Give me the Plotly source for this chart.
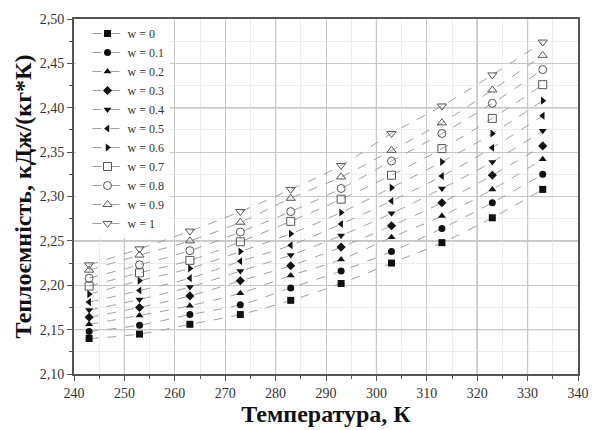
import plotly.graph_objects as go

temps = [243, 253, 263, 273, 283, 293, 303, 313, 323, 333]
labels = ["w = 0", "w = 0.1", "w = 0.2", "w = 0.3", "w = 0.4", "w = 0.5",
          "w = 0.6", "w = 0.7", "w = 0.8", "w = 0.9", "w = 1"]

w00 = [2.140, 2.145, 2.156, 2.167, 2.183, 2.202, 2.225, 2.248, 2.276, 2.308]
w01 = [2.148, 2.155, 2.167, 2.178, 2.197, 2.216, 2.238, 2.264, 2.293, 2.325]
w02 = [2.156, 2.166, 2.177, 2.191, 2.211, 2.229, 2.254, 2.278, 2.308, 2.342]
w03 = [2.164, 2.175, 2.188, 2.205, 2.222, 2.243, 2.267, 2.293, 2.324, 2.357]
w04 = [2.172, 2.184, 2.198, 2.216, 2.234, 2.256, 2.281, 2.309, 2.339, 2.374]
w05 = [2.181, 2.194, 2.208, 2.227, 2.245, 2.269, 2.295, 2.323, 2.355, 2.391]
w06 = [2.190, 2.205, 2.219, 2.238, 2.258, 2.282, 2.310, 2.339, 2.371, 2.408]
w07 = [2.199, 2.214, 2.228, 2.249, 2.272, 2.297, 2.324, 2.354, 2.388, 2.426]
w08 = [2.208, 2.223, 2.239, 2.260, 2.283, 2.309, 2.340, 2.371, 2.405, 2.443]
w09 = [2.217, 2.234, 2.250, 2.271, 2.298, 2.322, 2.352, 2.383, 2.420, 2.459]
w10 = [2.223, 2.241, 2.261, 2.283, 2.308, 2.335, 2.371, 2.402, 2.437, 2.474]

series = [w00, w01, w02, w03, w04, w05, w06, w07, w08, w09, w10]
symbols = ["square", "circle", "triangle-up", "diamond", "triangle-down",
           "triangle-left", "triangle-right", "square-open", "circle-open",
           "triangle-up-open", "triangle-down-open"]

dark_x = [250, 280, 300, 320, 330]
dark_y = [2.15, 2.25, 2.30, 2.40]

SERIF = "Liberation Serif, Times New Roman, serif"

fig = go.Figure()
for lab, vals, sym in zip(labels, series, symbols):
    is_open = sym.endswith("open")
    fig.add_trace(go.Scatter(
        x=temps, y=vals, name=lab, mode="lines+markers",
        line=dict(color="#a0a0a0", width=1, dash="dash", shape="spline"),
        marker=dict(symbol=sym, size=7 if not is_open else 8,
                    color="#111111" if not is_open else "#555555",
                    line=dict(width=1, color="#555555") if is_open else dict(width=0)),
    ))

shapes = []
for xv in dark_x:
    shapes.append(dict(type="line", xref="x", yref="paper", x0=xv, x1=xv, y0=0, y1=1,
                       line=dict(color="#7a7a7a", width=1), layer="below"))
for yv in dark_y:
    shapes.append(dict(type="line", xref="paper", yref="y", x0=0, x1=1, y0=yv, y1=yv,
                       line=dict(color="#7a7a7a", width=1), layer="below"))

fig.update_layout(
    width=601, height=430,
    margin=dict(l=74, r=14, t=16, b=52),
    paper_bgcolor="white", plot_bgcolor="white",
    separators=", ",
    font=dict(family=SERIF, color="#222222", size=14),
    shapes=shapes,
    showlegend=True,
    legend=dict(x=0.003, y=1.0, xanchor="left", yanchor="top",
                bgcolor="white", borderwidth=0, indentation=12,
                font=dict(family=SERIF, size=12, color="#333333"),
                itemwidth=30, tracegroupgap=0, entrywidth=72),
    xaxis=dict(
        range=[240, 340], dtick=10, tick0=240,
        showline=True, linecolor="#555555", linewidth=2, mirror=True,
        ticks="outside", ticklen=5, tickcolor="#555555", tickwidth=1,
        showgrid=True, gridcolor="#c8c8c8", gridwidth=1,
        minor=dict(dtick=5, showgrid=True, gridcolor="#ececec", ticks="outside",
                   ticklen=3, tickcolor="#555555"),
        zeroline=False,
        tickfont=dict(family=SERIF, size=14, color="#333333"),
        title=dict(text="<b>Температура, К</b>", standoff=0,
                   font=dict(family=SERIF, size=24, color="#111111")),
    ),
    yaxis=dict(
        range=[2.10, 2.50], dtick=0.05, tick0=2.10, tickformat=".2f",
        showline=True, linecolor="#555555", linewidth=2, mirror=True,
        ticks="outside", ticklen=5, tickcolor="#555555", tickwidth=1,
        showgrid=True, gridcolor="#c8c8c8", gridwidth=1,
        minor=dict(dtick=0.025, showgrid=True, gridcolor="#ececec", ticks="outside",
                   ticklen=3, tickcolor="#555555"),
        zeroline=False,
        tickfont=dict(family=SERIF, size=14, color="#333333"),
        title=dict(text="<b>Теплоємність, кДж/(кг*К)</b>", standoff=1,
                   font=dict(family=SERIF, size=24, color="#111111")),
    ),
)

fig.write_html("out.html")
